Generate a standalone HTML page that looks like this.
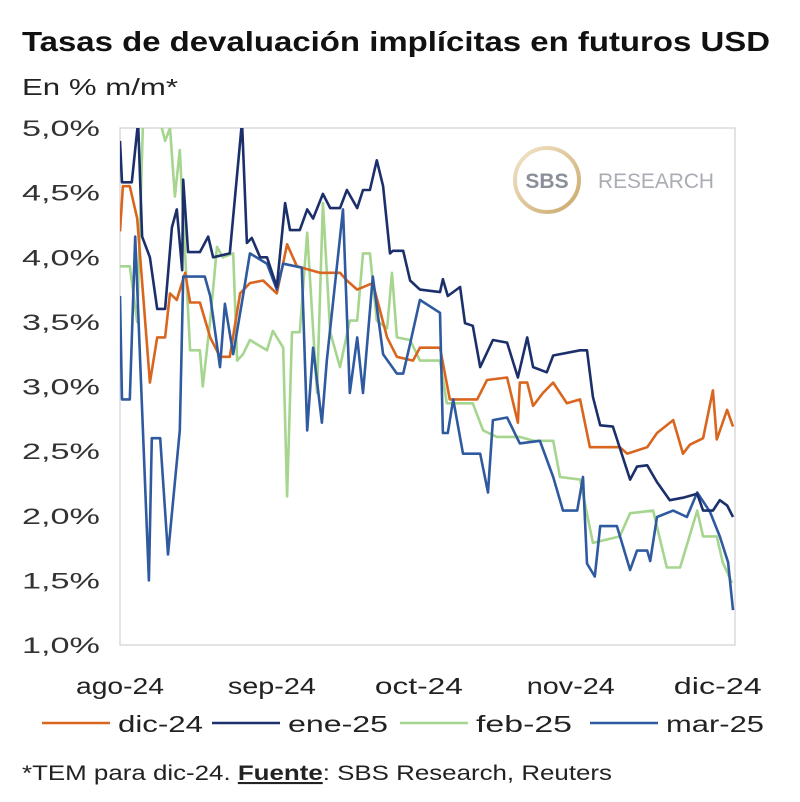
<!DOCTYPE html>
<html><head><meta charset="utf-8"><style>
body{margin:0;background:#fff;width:800px;height:802px;overflow:hidden;font-family:"Liberation Sans",sans-serif}
svg{display:block}
</style></head><body>
<svg id="chart" width="800" height="802">
<defs>
<clipPath id="plotclip"><rect x="120" y="128" width="615" height="517"/></clipPath>
<linearGradient id="gold" x1="0" y1="0" x2="1" y2="1"><stop offset="0" stop-color="#f3e6cc"/><stop offset="1" stop-color="#c9a86a"/></linearGradient>
</defs>
<text x="22" y="51" font-size="28" font-weight="bold" fill="#111" textLength="748" lengthAdjust="spacingAndGlyphs">Tasas de devaluación implícitas en futuros USD</text>
<text x="22" y="95" font-size="23" fill="#222" textLength="156" lengthAdjust="spacingAndGlyphs">En % m/m*</text>
<rect x="120" y="128" width="615" height="517" fill="none" stroke="#d0d0d0" stroke-width="1.2"/>
<g>
<circle cx="547" cy="180" r="32" fill="none" stroke="url(#gold)" stroke-width="4"/>
<text x="547" y="188" font-size="21" font-weight="bold" fill="#8a8f99" text-anchor="middle">SBS</text>
<text x="598" y="188" font-size="21" fill="#a9adb3" textLength="116" lengthAdjust="spacingAndGlyphs">RESEARCH</text>
</g>
<g id="yaxis"></g>
<g id="xaxis"></g>
<g id="series" clip-path="url(#plotclip)"></g>
<g id="legend"></g>
<text x="22" y="780" font-size="21" fill="#222" textLength="590" lengthAdjust="spacingAndGlyphs">*TEM para dic-24. <tspan font-weight="bold" text-decoration="underline">Fuente</tspan>: SBS Research, Reuters</text>
</svg>
<script>
const yTicks=[1.0,1.5,2.0,2.5,3.0,3.5,4.0,4.5,5.0];
const yTickLabels=["1,0%","1,5%","2,0%","2,5%","3,0%","3,5%","4,0%","4,5%","5,0%"];
const xTickDays=[0,31,61,92,122];
const xTickLabels=["ago-24","sep-24","oct-24","nov-24","dic-24"];
const seriesNames=["dic-24","ene-25","feb-25","mar-25"];
const dicDays=[0,0.6,2,3.5,6.1,7.6,9.2,10.2,11.6,13.3,14.3,16.3,18.4,20.4,22.4,24.5,26.5,29.2,32,34.1,36.1,40.8,44.9,46.3,48.4,51.6,54.5,56.5,59.8,61.2,65.3,67.3,72.9,74.9,79,81.2,81.6,83.1,84.3,86.3,88.4,91.2,93.9,95.9,102,103.5,107.6,109.6,112.9,114.9,116.3,119,121,121.8,123.9,125.1];
const dicVals=[4.2,4.55,4.55,4.3,3.03,3.38,3.38,3.72,3.67,3.88,3.65,3.65,3.38,3.23,3.23,3.72,3.8,3.82,3.72,4.1,3.93,3.88,3.88,3.82,3.75,3.8,3.38,3.23,3.2,3.3,3.3,2.9,2.9,3.05,3.07,2.72,3.03,3.03,2.85,2.95,3.03,2.87,2.9,2.53,2.53,2.48,2.53,2.64,2.74,2.48,2.55,2.6,2.97,2.59,2.82,2.69];
const eneDays=[0,0.4,2.4,3.7,4.5,6.1,7.6,9.2,10.6,11.6,12.7,12.9,13.9,16.3,18,19,22.4,24.9,25.9,26.9,28.6,30,32,33.7,34.7,36.7,38.2,39.4,41.4,42.9,44.9,46.3,48.4,49.6,51,52.4,53.7,55.1,55.7,57.8,59.2,61.2,65.3,65.9,66.9,69.4,70.4,72,73.5,76.1,79,81.2,83.1,84.3,87.1,88.4,93.9,95.3,96.5,98,100.6,104.1,105.5,107.6,109.6,112.2,114.9,117.8,119,121,122.4,123.9,125.1];
const eneVals=[4.9,4.58,4.58,5.05,4.16,4.0,3.6,3.6,4.23,4.37,3.9,4.6,4.04,4.04,4.16,4.0,4.03,5.05,4.11,4.15,4.0,4.0,3.77,4.42,4.21,4.21,4.37,4.3,4.49,4.38,4.38,4.52,4.38,4.52,4.52,4.75,4.55,4.03,4.05,4.05,3.82,3.75,3.73,3.83,3.7,3.77,3.49,3.47,3.15,3.36,3.34,3.07,3.38,3.15,3.11,3.24,3.28,3.28,2.92,2.7,2.69,2.28,2.38,2.39,2.26,2.12,2.14,2.17,2.04,2.04,2.12,2.08,1.99];
const febDays=[0,2,3.5,4.7,8.2,9.2,10.2,11.2,12.2,14.3,16.3,16.9,18.4,19.8,21,23.1,23.9,25.1,26.5,30,31.2,33.3,34.1,35.1,36.7,38.2,40.2,41.4,42.9,44.9,46.9,48.4,49.6,51,52.4,54.5,55.5,56.5,59.2,61.2,65.3,66.7,72,74.1,76.9,81.6,84.3,88.4,89.8,93.9,96.5,102,104.1,108.8,111.6,114.3,117.8,119,121.8,123,124.9];
const febVals=[3.93,3.93,3.5,5.05,5.05,4.9,5.0,4.47,4.83,3.28,3.28,3.0,3.51,4.08,4.0,4.03,3.2,3.25,3.36,3.28,3.43,3.3,2.15,3.42,3.42,4.19,2.95,4.42,3.42,3.15,3.51,3.51,4.03,4.03,3.51,3.45,3.88,3.38,3.36,3.2,3.2,2.87,2.87,2.66,2.61,2.61,2.58,2.58,2.3,2.28,1.79,1.84,2.02,2.04,1.6,1.6,2.04,1.84,1.84,1.64,1.48];
const marDays=[0,0.4,2,3.1,5.9,6.5,8.2,9.8,12.2,12.9,16.3,17.3,18.4,20.4,21.4,23.1,25.1,26.5,30,32,33.3,37.1,38.2,39.4,41.2,42.2,45.5,46.9,48.4,49.6,51.6,53.7,56.5,57.8,59.2,61.2,65.3,65.9,66.9,68,70,73.5,75.1,76.1,79,81.6,85.7,88.4,90.4,93.3,94.5,95.3,96.9,98,101.4,104.1,105.5,107.6,108.2,109.6,112.9,115.7,117.8,120.4,122.4,124.1,125.1];
const marVals=[3.7,2.9,2.9,4.16,1.5,2.6,2.6,1.7,2.66,3.85,3.85,3.85,3.7,3.15,3.64,3.25,3.7,4.03,3.95,3.75,3.95,3.92,2.66,3.3,2.72,3.2,4.37,2.95,3.38,2.95,3.85,3.25,3.1,3.1,3.33,3.67,3.57,2.64,2.64,2.9,2.48,2.48,2.18,2.74,2.76,2.56,2.58,2.3,2.04,2.04,2.3,1.63,1.53,1.92,1.92,1.58,1.73,1.73,1.65,1.99,2.04,1.99,2.18,2.03,1.84,1.64,1.27];
const colors=["#d9661f","#1b2f6b","#a6d58f","#2f5aa0"];

const NS="http://www.w3.org/2000/svg";
const X0=120,DAYPX=4.9,YTOP=128,YBOT=645,VMIN=1,VMAX=5;
function xs(d){return X0+d*DAYPX;}
function ys(v){return YBOT-(v-VMIN)/(VMAX-VMIN)*(YBOT-YTOP);}
function mk(tag,attrs,parent){const e=document.createElementNS(NS,tag);for(const k in attrs)e.setAttribute(k,attrs[k]);parent.appendChild(e);return e;}

const ya=document.getElementById('yaxis');
yTicks.forEach((t,i)=>{
  const tx=mk('text',{x:100,y:ys(t)+8,'font-size':22,fill:'#333','text-anchor':'end',textLength:78,lengthAdjust:'spacingAndGlyphs'},ya);
  tx.textContent=yTickLabels[i];
  
  
});
const xa=document.getElementById('xaxis');
xTickDays.forEach((d,i)=>{
  const tx=mk('text',{x:xs(d)-44,y:694,'font-size':23,fill:'#222',textLength:88,lengthAdjust:'spacingAndGlyphs'},xa);
  tx.textContent=xTickLabels[i];
  
  
});
const sg=document.getElementById('series');
const allDays=[dicDays,eneDays,febDays,marDays];
const allVals=[dicVals,eneVals,febVals,marVals];
const order=[2,0,3,1];
order.forEach(i=>{
  const pts=allDays[i].map((d,j)=>xs(d).toFixed(1)+','+ys(allVals[i][j]).toFixed(1)).join(' ');
  const pl=mk('polyline',{points:pts,fill:'none',stroke:colors[i],'stroke-width':2.6,'stroke-linejoin':'round'},sg);
  
  
});
const lg=document.getElementById('legend');
const lx=[42,212,400,590];
const lw=[85,100,96,98];
seriesNames.forEach((n,i)=>{
  const g=mk('g',{},lg);
  
  
  mk('line',{x1:lx[i],y1:723,x2:lx[i]+68,y2:723,stroke:colors[i],'stroke-width':2.6},g);
  const t=mk('text',{x:lx[i]+76,y:732,'font-size':23,fill:'#222',textLength:lw[i],lengthAdjust:'spacingAndGlyphs'},g);
  t.textContent=n;
});
</script>
</body></html>
